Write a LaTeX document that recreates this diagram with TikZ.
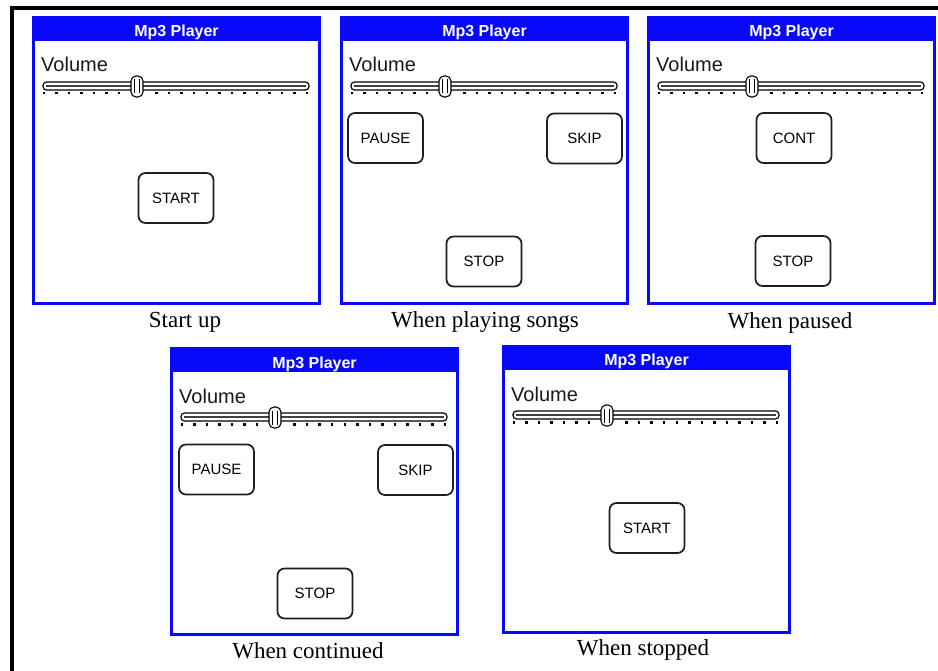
\documentclass[tikz,border=0pt]{standalone}
\usepackage{fontspec}
\setmainfont{Liberation Serif}
\newfontfamily\uisans{Liberation Sans}
\usetikzlibrary{calc}

\definecolor{mpblue}{RGB}{8,8,250}
\definecolor{btnedge}{RGB}{30,30,30}

\tikzset{
  screenedge/.style={draw=mpblue, line width=3pt, fill=white},
  titletext/.style={text=white, inner sep=0pt, font=\uisans\bfseries\fontsize{16}{18}\selectfont},
  voltext/.style={text=black!90, inner sep=0pt, font=\uisans\fontsize{20}{22}\selectfont},
  track/.style={draw=black, line width=1.2pt, fill=white, rounded corners=3.5pt},
  trackmid/.style={draw=black!75, line width=1.5pt},
  knob/.style={draw=black, line width=1.1pt, fill=white, rounded corners=5pt},
  btn/.style={draw=btnedge, line width=1.7pt, rounded corners=7pt, fill=white,
    minimum width=75pt, minimum height=50pt, inner sep=0pt,
    font=\uisans\fontsize{15}{17}\selectfont, text=black},
  caption/.style={inner sep=0pt, anchor=base, font=\fontsize{23}{26}\selectfont},
  pics/mpscreen/.style={code={
    % window body and title bar
    \draw[screenedge] (1.5,1.5) rectangle (287.5,287.5);
    \fill[mpblue] (0,0) rectangle (289,25);
    \node[titletext, anchor=base] (-title) at (144.5,21) {Mp3 Player};
    % volume label and slider
    \node[voltext, anchor=base west] (-vol) at (9,56) {Volume};
    \draw[track] (11,66) rectangle (277,74);
    \draw[trackmid] (14,70) -- (274,70);
    \foreach \i in {0,1,2,3,4,5,6,9,10,11,12,13,14,15,16,17,18,19,20,21}
      \fill[black] ({12+\i*12.52-1.25},76) rectangle ++(2.5,2.5);
    \draw[knob] (99,60) rectangle (111,81);
    \draw[black, line width=0.8pt] (102.2,63.5) -- (102.2,77.5) (107.8,63.5) -- (107.8,77.5);
  }},
}

\begin{document}
\begin{tikzpicture}[x=1pt, y=-1pt]
  \useasboundingbox (0,0) rectangle (938,671);
  \fill[white] (0,0) rectangle (938,671);

  % page frame
  \draw[line width=4pt, line cap=rect] (12,671) -- (12,8) -- (938,8);

  % start up
  \begin{scope}[shift={(32,16)}]
    \pic (s1) {mpscreen};
    \node[btn] (s1start) at (144,182) {START};
  \end{scope}
  \node[caption] (c1) at (185,327) {Start up};

  % playing songs
  \begin{scope}[shift={(340,16)}]
    \pic (s2) {mpscreen};
    \node[btn] (s2pause) at (45.5,122) {PAUSE};
    \node[btn] (s2skip) at (244.5,122.5) {SKIP};
    \node[btn] (s2stop) at (144,245.5) {STOP};
  \end{scope}
  \node[caption] (c2) at (485,327) {When playing songs};

  % paused
  \begin{scope}[shift={(647,16)}]
    \pic (s3) {mpscreen};
    \node[btn] (s3cont) at (147,122) {CONT};
    \node[btn] (s3stop) at (146,245) {STOP};
  \end{scope}
  \node[caption] (c3) at (790,329) {When paused};

  % continued
  \begin{scope}[shift={(170,347)}]
    \pic (s4) {mpscreen};
    \node[btn] (s4pause) at (46.5,122.5) {PAUSE};
    \node[btn] (s4skip) at (245.5,123) {SKIP};
    \node[btn] (s4stop) at (145,246.5) {STOP};
  \end{scope}
  \node[caption] (c4) at (308,658) {When continued};

  % stopped
  \begin{scope}[shift={(502,345)}]
    \pic (s5) {mpscreen};
    \node[btn] (s5start) at (145,183) {START};
  \end{scope}
  \node[caption] (c5) at (643,655) {When stopped};
\end{tikzpicture}
\end{document}
